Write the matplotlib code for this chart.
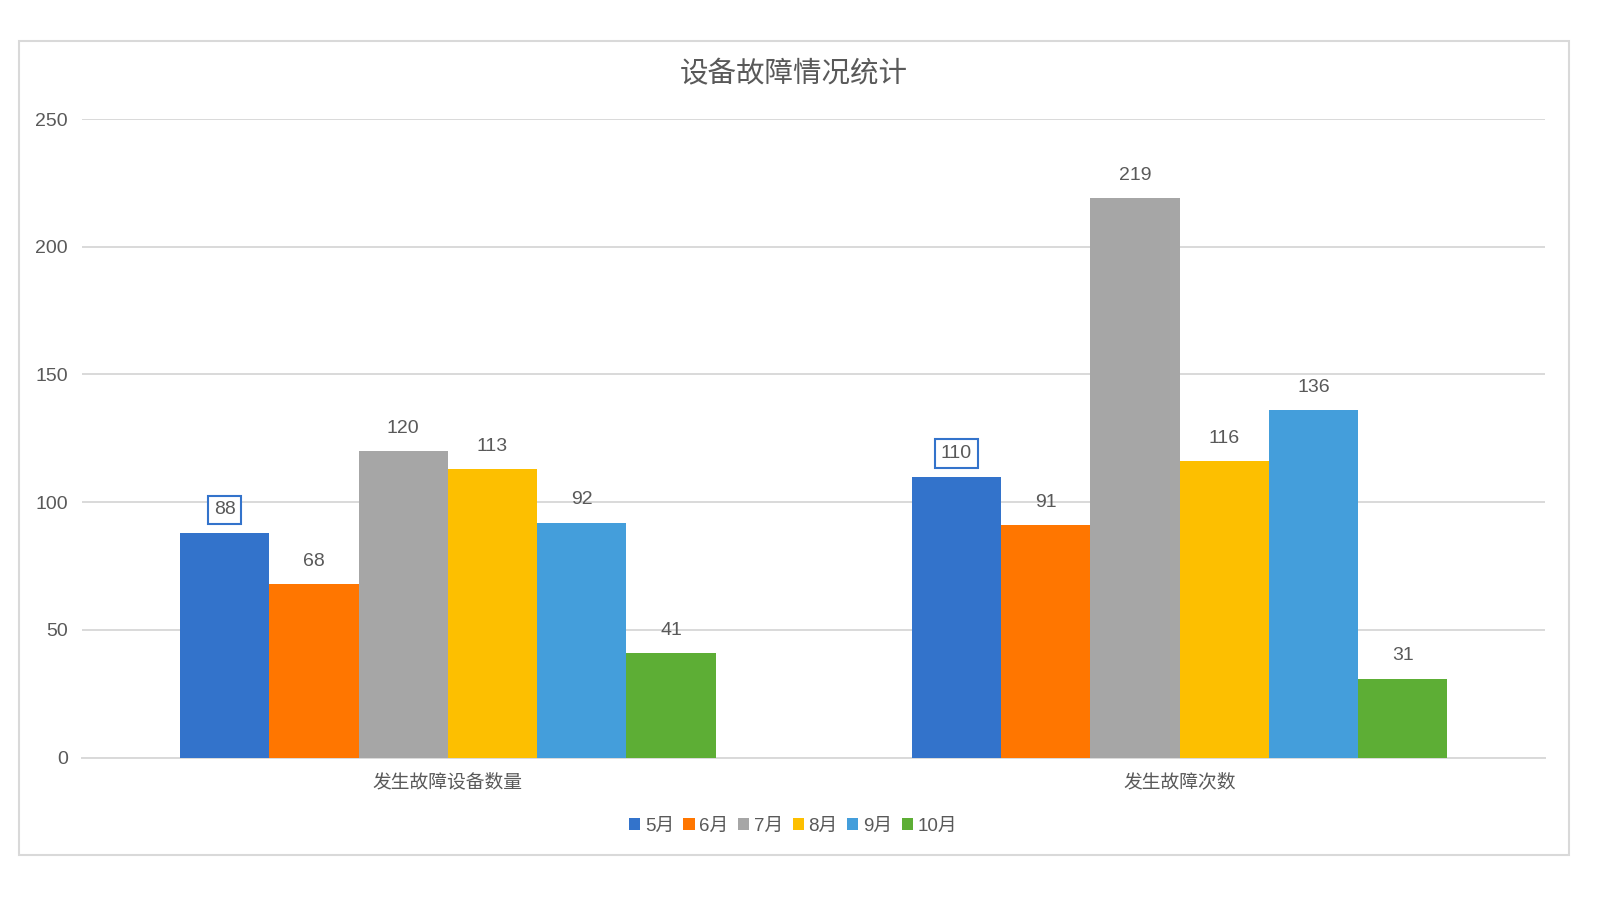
import matplotlib
matplotlib.use("Agg")
import matplotlib.pyplot as plt
from matplotlib.patches import Rectangle, Patch
import numpy as np

plt.rcParams['font.family'] = ['Liberation Sans', 'Noto Sans CJK SC', 'DejaVu Sans']

title = "设备故障情况统计"
categories = ["发生故障设备数量", "发生故障次数"]
months = ["5月", "6月", "7月", "8月", "9月", "10月"]
values = {
    "5月": [88, 110],
    "6月": [68, 91],
    "7月": [120, 219],
    "8月": [113, 116],
    "9月": [92, 136],
    "10月": [41, 31],
}
colors = ["#3373CB", "#FF7600", "#A6A6A6", "#FDBF00", "#449EDB", "#5DAE35"]
yticks = [0, 50, 100, 150, 200, 250]

TXT = "#595959"
GRID = "#D9D9D9"

W, H = 1606, 898
fig = plt.figure(figsize=(W / 100, H / 100), dpi=100)
fig.patch.set_facecolor("white")

# outer frame
fig.patches.append(Rectangle((19.5 / W, 1 - 855 / H), (1569 - 19.5) / W, (855 - 41.3) / H,
                             transform=fig.transFigure, fill=False, edgecolor=GRID, lw=1.5))

ax = fig.add_axes([82 / W, 1 - 757.7 / H, (1545.5 - 82) / W, (757.7 - 119) / H])
ax.set_facecolor("white")

n = len(months)
bw = 0.732 / n
x = np.arange(len(categories))
for i, m in enumerate(months):
    pos = x - 0.366 + bw * (i + 0.5)
    ax.bar(pos, values[m], width=bw, color=colors[i], zorder=3, label=m)
    for p, v in zip(pos, values[m]):
        kw = {}
        if i == 0:
            kw["bbox"] = dict(boxstyle="square,pad=0.3", fc="white", ec=colors[0], lw=1.5)
        ax.annotate(str(v), (p, v), xytext=(0, 16.5), textcoords="offset points",
                    ha="center", va="center", fontsize=14, color=TXT, zorder=5, **kw)

ax.set_xlim(-0.5, 1.5)
ax.set_ylim(0, 250)
ax.set_yticks(yticks)
ax.set_yticklabels([str(t) for t in yticks], fontsize=14, color=TXT)
ax.set_xticks(x)
ax.set_xticklabels(categories, fontsize=13.5, color=TXT)
ax.tick_params(axis="y", length=0, pad=10)
ax.tick_params(axis="x", length=0, pad=11.5)
ax.grid(axis="y", color=GRID, lw=1.4, zorder=0)
for s in ["top", "right", "left"]:
    ax.spines[s].set_visible(False)
ax.spines["bottom"].set_color(GRID)
ax.spines["bottom"].set_linewidth(1.4)
ax.set_axisbelow(True)

fig.text(794 / W, 1 - 74.5 / H, title, ha="center", va="center", fontsize=20.5, color=TXT)

handles = [Patch(facecolor=c, edgecolor="none") for c in colors]
fig.legend(handles, months, loc="center", bbox_to_anchor=(793 / W, 1 - 826 / H),
           ncol=n, frameon=False, fontsize=13.5, handlelength=0.6, handleheight=0.6,
           handletextpad=0.25, columnspacing=0.5, labelcolor=TXT)

fig.savefig("out.png", dpi=100, facecolor="white")
